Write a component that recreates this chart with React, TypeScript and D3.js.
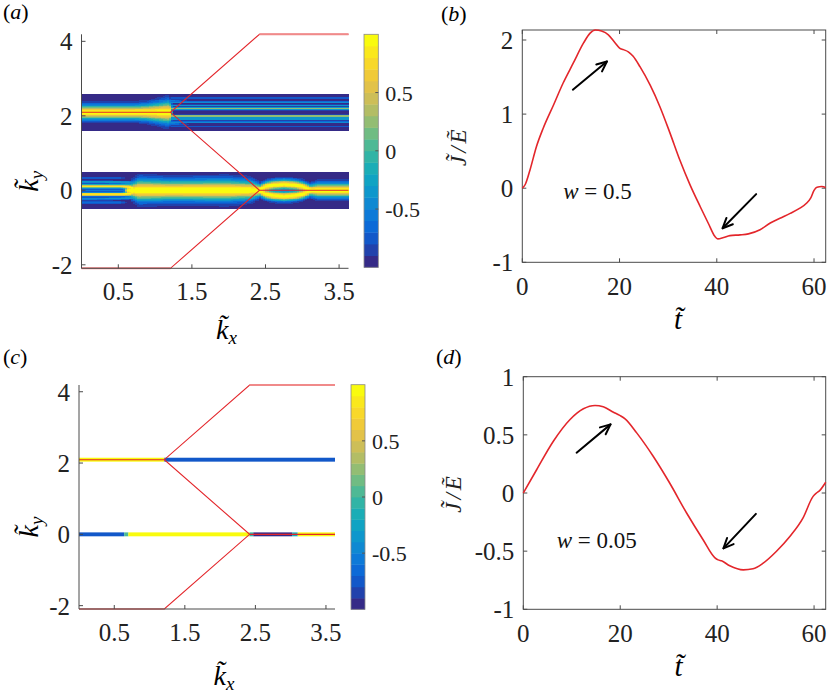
import React, { useMemo } from "react";
import * as d3 from "d3";

const W = 831;
const H = 694;

// red path across the zone (kx, ky)
const pathKx = [0, 1.209, 2.418, 1.209, 2.418, 3.628];
const pathKy = [-2.094, -2.094, 0, 2.094, 4.189, 4.189];
// extra horizontal red segments: [kx0, kx1, ky]
const redSegs = [
  [0, 1.209, 2.094],
  [2.418, 3.628, 0],
];

const kxTicks = [0.5, 1.5, 2.5, 3.5];
const kyTicks = [4, 2, 0, -2];
const cbTicks = [0.5, 0, -0.5];
const tTicks = [0, 20, 40, 60];
const jTicksB = [2, 1, 0, -1];
const jTicksD = [1, 0.5, 0, -0.5, -1];

const parula = ["#352a87", "#0363e1", "#1485d4", "#06a7c6", "#38b99e", "#92bf73", "#d9ba56", "#fcce2e", "#f9fb0e"];
const nLevels = 20;

// panel (a): two bands, ky centre +- 0.5
const bandCentersA = [2.094, 0];
// stripes: kx points, ky offset / width / peak value at those points, edge softness
const stripesUpper = [
  { xs: [-0.1, 0.7, 0.9, 1.05, 1.18, 1.23], dy: [0, 0, 0, 0, 0, 0], w: [0.17, 0.17, 0.19, 0.23, 0.27, 0.2], v: [1, 1, 1, 1, 1, 1], s: 0.02 },
  { xs: [0.8, 1.1, 1.4], dy: [0.29, 0.3, 0.33], w: [0.025, 0.035, 0.03], v: [-0.9, -0.5, -0.6], s: 0.25 },
  { xs: [0.8, 1.1, 1.4], dy: [-0.29, -0.3, -0.33], w: [0.025, 0.035, 0.03], v: [-0.9, -0.5, -0.6], s: 0.25 },
  { xs: [1.2, 3.7], dy: [0.1, 0.1], w: [0.035, 0.035], v: [0.4, 0.4], s: 0.03 },
  { xs: [1.2, 3.7], dy: [-0.1, -0.1], w: [0.035, 0.035], v: [0.4, 0.4], s: 0.03 },
  { xs: [1.2, 3.7], dy: [0.18, 0.18], w: [0.022, 0.022], v: [-0.15, -0.15], s: 0.03 },
  { xs: [1.2, 3.7], dy: [-0.18, -0.18], w: [0.022, 0.022], v: [-0.15, -0.15], s: 0.03 },
  { xs: [1.2, 3.7], dy: [0.27, 0.27], w: [0.03, 0.03], v: [-0.45, -0.45], s: 0.03 },
  { xs: [1.2, 3.7], dy: [-0.27, -0.27], w: [0.03, 0.03], v: [-0.45, -0.45], s: 0.03 },
  { xs: [1.2, 3.7], dy: [0.38, 0.38], w: [0.03, 0.03], v: [-0.75, -0.75], s: 0.03 },
  { xs: [1.2, 3.7], dy: [-0.38, -0.38], w: [0.03, 0.03], v: [-0.75, -0.75], s: 0.03 },
];
const stripesLower = [
  { xs: [-0.1, 0.55, 0.66, 0.72], dy: [0.105, 0.105, 0.085, 0.04], w: [0.05, 0.05, 0.07, 0.1], v: [0.85, 0.9, 1, 1], s: 0.03 },
  { xs: [-0.1, 0.55, 0.66, 0.72], dy: [-0.105, -0.105, -0.085, -0.04], w: [0.05, 0.05, 0.07, 0.1], v: [0.85, 0.9, 1, 1], s: 0.03 },
  { xs: [-0.1, 0.64], dy: [0, 0], w: [0.04, 0.04], v: [-0.5, -0.5], s: 0.03 },
  { xs: [-0.1, 0.5, 0.75], dy: [0.23, 0.22, 0.2], w: [0.035, 0.035, 0.04], v: [-0.35, -0.3, -0.3], s: 0.1 },
  { xs: [-0.1, 0.5, 0.75], dy: [-0.23, -0.22, -0.2], w: [0.035, 0.035, 0.04], v: [-0.35, -0.3, -0.3], s: 0.1 },
  { xs: [-0.1, 0.6], dy: [0.33, 0.33], w: [0.03, 0.03], v: [-0.65, -0.65], s: 0.15 },
  { xs: [-0.1, 0.6], dy: [-0.33, -0.33], w: [0.03, 0.03], v: [-0.65, -0.65], s: 0.15 },
  { xs: [0.6, 0.68, 0.78, 1.2, 2.0, 2.3, 2.44], dy: [0, 0, 0, 0, 0, 0, 0], w: [0.06, 0.17, 0.26, 0.24, 0.25, 0.22, 0.13], v: [1, 1, 1, 1, 1, 1, 1], s: 0.04 },
  { xs: [2.4, 2.5, 2.6, 2.75, 2.9, 3.0, 3.12], dy: [0, 0.1, 0.14, 0.16, 0.14, 0.1, 0], w: [0.12, 0.12, 0.12, 0.12, 0.12, 0.12, 0.12], v: [1, 1, 1, 1, 1, 1, 1], s: 0.02 },
  { xs: [2.4, 2.5, 2.6, 2.75, 2.9, 3.0, 3.12], dy: [0, -0.1, -0.14, -0.16, -0.14, -0.1, 0], w: [0.12, 0.12, 0.12, 0.12, 0.12, 0.12, 0.12], v: [1, 1, 1, 1, 1, 1, 1], s: 0.02 },
  { xs: [3.08, 3.2, 3.7], dy: [0, 0, 0], w: [0.12, 0.17, 0.17], v: [1, 1, 1], s: 0.02 },
];

// panel (c): thin strips [ky, kx0, kx1, value]
const stripsC = [
  [2.094, 0, 1.209, 1],
  [2.094, 1.209, 3.628, -0.75],
  [0, 0, 0.64, -0.75],
  [0, 0.64, 0.7, 0],
  [0, 0.7, 2.418, 1],
  [0, 2.418, 2.47, -0.1],
  [0, 2.47, 3.02, -0.95],
  [0, 3.02, 3.1, -0.2],
  [0, 3.1, 3.628, 1],
];

// panel (b): w = 0.5
const tB = [0, 0.6, 1.6, 2.9, 4.3, 6.4, 8.4, 10.5, 12.6, 13.9, 15, 16.3, 17.7, 19.1, 20, 20.8, 21.8, 22.8, 24.2, 26.3, 28.3, 30.4, 32.4, 34.5, 36.6, 38.3, 39.6, 40.2, 41.4, 42.7, 44.8, 46.5, 48.9, 51, 53, 55.1, 57.1, 58.5, 59.3, 60, 60.6, 61.6, 62.4];
const jB = [0, 0.05, 0.25, 0.56, 0.81, 1.12, 1.42, 1.69, 1.96, 2.09, 2.135, 2.12, 2.07, 1.96, 1.89, 1.87, 1.84, 1.78, 1.64, 1.39, 1.1, 0.74, 0.38, 0.045, -0.25, -0.48, -0.65, -0.684, -0.666, -0.64, -0.63, -0.616, -0.56, -0.47, -0.405, -0.34, -0.27, -0.2, -0.135, -0.03, 0.013, 0.022, 0.01];

// panel (d): w = 0.05
const tD = [0, 2.75, 6.2, 9.6, 12.4, 14.8, 16.5, 18.6, 19.9, 21, 23.4, 26.8, 30.2, 33.7, 37.1, 39.5, 40.2, 40.9, 42.6, 45.4, 47.4, 49.5, 52.2, 55, 57.7, 59.8, 60.5, 61.2, 62.4];
const jD = [0, 0.2, 0.445, 0.63, 0.724, 0.753, 0.741, 0.695, 0.667, 0.638, 0.517, 0.316, 0.086, -0.172, -0.402, -0.555, -0.575, -0.583, -0.626, -0.661, -0.652, -0.603, -0.503, -0.374, -0.216, -0.029, 0, 0.023, 0.092];

// arrows [t0, j0, t1, j1] (tail -> head)
const arrowsB = [
  [10.4, 1.33, 17.4, 1.71],
  [48.1, -0.08, 41.2, -0.54],
];
const arrowsD = [
  [11.0, 0.347, 18.0, 0.59],
  [48.0, -0.18, 41.3, -0.476],
];

const serif = "Liberation Serif, Times New Roman, Times, serif";
const axisColor = "#4a4a4a";
const red = "#e3262b";

const colorScale = d3.interpolateRgbBasis(parula);
const levelColor = (l: number) => colorScale(l / (nLevels - 1));
const toLevel = (v: number) => Math.max(0, Math.min(nLevels - 1, Math.floor(((v + 1) / 2) * nLevels)));

const clamp01 = (a: number) => Math.max(0, Math.min(1, a));

function interp(xs: number[], ys: number[], x: number) {
  if (x <= xs[0]) return ys[0];
  for (let i = 1; i < xs.length; i++) {
    if (x <= xs[i]) {
      const f = (x - xs[i - 1]) / (xs[i] - xs[i - 1]);
      return ys[i - 1] + f * (ys[i] - ys[i - 1]);
    }
  }
  return ys[ys.length - 1];
}

function cellValue(stripes: any[], x: number, d: number) {
  let val = -1;
  for (const s of stripes) {
    const x0 = s.xs[0];
    const x1 = s.xs[s.xs.length - 1];
    const fx = clamp01((x - x0) / s.s + 0.5) * clamp01((x1 - x) / s.s + 0.5);
    if (fx <= 0) continue;
    const off = d - interp(s.xs, s.dy, x);
    const w = interp(s.xs, s.w, x);
    const v = interp(s.xs, s.v, x);
    const c = -1 + (v + 1) * Math.exp(-(off * off) / (w * w)) * fx;
    if (c > val) val = c;
  }
  return val;
}

const Arrow = ({ x0, y0, x1, y1 }: any) => {
  const ang = Math.atan2(y1 - y0, x1 - x0);
  const len = 11;
  const spread = 0.42;
  const a1 = ang + Math.PI - spread;
  const a2 = ang + Math.PI + spread;
  const p1 = [x1 + len * Math.cos(a1), y1 + len * Math.sin(a1)];
  const p2 = [x1 + len * Math.cos(a2), y1 + len * Math.sin(a2)];
  return (
    <g stroke="#000" strokeWidth={2} fill="none" strokeLinecap="round" strokeLinejoin="round">
      <line x1={x0} y1={y0} x2={x1} y2={y1} />
      <polyline points={`${p1[0]},${p1[1]} ${x1},${y1} ${p2[0]},${p2[1]}`} />
    </g>
  );
};

const KLabel = ({ x, y, sub, rotate }: any) => (
  <text
    transform={`translate(${x},${y})${rotate ? " rotate(-90)" : ""}`}
    fontStyle="italic"
    fontSize={28}
    fill="#000"
    textAnchor="middle"
  >
    {"k\u0303"}
    <tspan fontSize={19} dy={5}>
      {sub}
    </tspan>
  </text>
);

const MapPanel = ({ box, cb, heat, label, labelPos, xLabelY }: any) => {
  const x = d3.scaleLinear([0, 3.628], [box.left, box.right]);
  const y = d3.scaleLinear([-2.094, 4.189], [box.bottom, box.top]);
  const cbY = d3.scaleLinear([-1, 1], [cb.bottom, cb.top]);
  const line = d3.line<number>().x((_, i) => x(pathKx[i])).y((_, i) => y(pathKy[i]));
  const levels = d3.range(nLevels);
  return (
    <g>
      <text x={labelPos[0]} y={labelPos[1]} fontSize={22}>
        (<tspan fontStyle="italic">{label}</tspan>)
      </text>
      {heat(x, y)}
      <path d={line(pathKx) || ""} fill="none" stroke={red} strokeWidth={1.1} />
      {redSegs.map((s, i) => (
        <line key={i} x1={x(s[0])} x2={x(s[1])} y1={y(s[2])} y2={y(s[2])} stroke={red} strokeWidth={1.1} />
      ))}
      <line x1={x(2.418)} x2={x(3.628)} y1={y(4.189)} y2={y(4.189)} stroke="#f08a8a" strokeWidth={2} />
      <line x1={x(0)} x2={x(1.209)} y1={y(-2.094)} y2={y(-2.094)} stroke="#f08a8a" strokeWidth={2} />
      {/* axes */}
      <g stroke={axisColor} strokeWidth={1}>
        <line x1={box.left} x2={box.left} y1={box.top} y2={box.bottom} />
        <line x1={box.left} x2={box.right} y1={box.bottom} y2={box.bottom} />
        {kxTicks.map((t) => (
          <line key={t} x1={x(t)} x2={x(t)} y1={box.bottom} y2={box.bottom - 4} />
        ))}
        {kyTicks.map((t) => (
          <line key={t} x1={box.left} x2={box.left + 4} y1={y(t)} y2={y(t)} />
        ))}
      </g>
      {kxTicks.map((t) => (
        <text key={t} x={x(t)} y={box.bottom + 32} textAnchor="middle" fontSize={25} fill="#222">
          {t}
        </text>
      ))}
      {kyTicks.map((t) => (
        <text key={t} x={box.left - 9} y={y(t) + 9} textAnchor="end" fontSize={25} fill="#222">
          {t}
        </text>
      ))}
      <KLabel x={box.left + 145} y={xLabelY} sub="x" />
      <KLabel x={38} y={(box.top + box.bottom) / 2 + 30} sub="y" rotate />
      {/* colorbar */}
      {levels.map((l) => (
        <rect
          key={l}
          x={cb.x}
          width={cb.w}
          y={cbY(-1 + ((l + 1) * 2) / nLevels)}
          height={cbY(-1) - cbY(-1 + 2 / nLevels) + 0.4}
          fill={levelColor(l)}
        />
      ))}
      <rect x={cb.x} y={cb.top} width={cb.w} height={cb.bottom - cb.top} fill="none" stroke="#8a8a8a" strokeWidth={0.8} />
      {cbTicks.map((t) => (
        <g key={t}>
          <line x1={cb.x + cb.w - 3} x2={cb.x + cb.w} y1={cbY(t)} y2={cbY(t)} stroke="#555" />
          <text x={cb.x + cb.w + 7} y={cbY(t) + 8} fontSize={22} fill="#222">
            {t}
          </text>
        </g>
      ))}
    </g>
  );
};

const CurvePanel = ({ box, yDomain, yTicks, ts, js, arrows, label, labelPos, wText, wPos, yLabelX }: any) => {
  const x = d3.scaleLinear([0, 62.4], [box.left, box.right]);
  const y = d3.scaleLinear(yDomain, [box.bottom, box.top]);
  const line = d3
    .line<number>()
    .x((_, i) => x(ts[i]))
    .y((_, i) => y(js[i]))
    .curve(d3.curveMonotoneX);
  return (
    <g>
      <text x={labelPos[0]} y={labelPos[1]} fontSize={22}>
        (<tspan fontStyle="italic">{label}</tspan>)
      </text>
      <g stroke={axisColor} strokeWidth={1} fill="none">
        <rect x={box.left} y={box.top} width={box.right - box.left} height={box.bottom - box.top} />
        {tTicks.map((t) => (
          <g key={t}>
            <line x1={x(t)} x2={x(t)} y1={box.bottom} y2={box.bottom - 4} />
            <line x1={x(t)} x2={x(t)} y1={box.top} y2={box.top + 4} />
          </g>
        ))}
        {yTicks.map((t: number) => (
          <g key={t}>
            <line x1={box.left} x2={box.left + 4} y1={y(t)} y2={y(t)} />
            <line x1={box.right} x2={box.right - 4} y1={y(t)} y2={y(t)} />
          </g>
        ))}
      </g>
      {tTicks.map((t) => (
        <text key={t} x={x(t)} y={box.bottom + 33} textAnchor="middle" fontSize={25} fill="#222">
          {t}
        </text>
      ))}
      {yTicks.map((t: number) => (
        <text key={t} x={box.left - 9} y={y(t) + 9} textAnchor="end" fontSize={25} fill="#222">
          {t}
        </text>
      ))}
      <path d={line(ts) || ""} fill="none" stroke={red} strokeWidth={1.6} />
      {arrows.map((a: number[], i: number) => (
        <Arrow key={i} x0={x(a[0])} y0={y(a[1])} x1={x(a[2])} y1={y(a[3])} />
      ))}
      <text x={x(wPos[0])} y={y(wPos[1])} fontSize={23} fill="#111">
        <tspan fontStyle="italic">w</tspan> = {wText}
      </text>
      <text
        transform={`translate(${yLabelX},${(box.top + box.bottom) / 2}) rotate(-90)`}
        fontStyle="italic"
        fontSize={23}
        letterSpacing={3}
        textAnchor="middle"
        fill="#222"
      >
        {"J\u0303/E\u0303"}
      </text>
      <text
        x={(box.left + box.right) / 2 + 4}
        y={box.bottom + 67}
        fontStyle="italic"
        fontSize={29}
        textAnchor="middle"
      >
        {"t\u0303"}
      </text>
    </g>
  );
};

export default function App() {
  const heatA = useMemo(() => {
    const nx = 134;
    const ny = 50;
    const dx = 3.628 / nx;
    const cells: { band: number; row: number; c0: number; c1: number; lvl: number }[] = [];
    bandCentersA.forEach((kc, b) => {
      const stripes = b === 0 ? stripesUpper : stripesLower;
      for (let r = 0; r < ny; r++) {
        const d = 0.5 - (r + 0.5) / ny;
        let start = 0;
        let cur = -1;
        for (let c = 0; c <= nx; c++) {
          const lvl = c < nx ? toLevel(cellValue(stripes, (c + 0.5) * dx, d)) : -2;
          if (lvl !== cur) {
            if (cur >= 0) cells.push({ band: b, row: r, c0: start, c1: c, lvl: cur });
            start = c;
            cur = lvl;
          }
        }
      }
    });
    return { cells, nx, ny, dx };
  }, []);

  const drawHeatA = (x: any, y: any) => (
    <g shapeRendering="crispEdges">
      {heatA.cells.map((c, i) => {
        const kc = bandCentersA[c.band];
        const top = kc + 0.5 - c.row / heatA.ny;
        const bot = kc + 0.5 - (c.row + 1) / heatA.ny;
        return (
          <rect
            key={i}
            x={x(c.c0 * heatA.dx)}
            width={x(c.c1 * heatA.dx) - x(c.c0 * heatA.dx) + 0.3}
            y={y(top)}
            height={y(bot) - y(top) + 0.3}
            fill={levelColor(c.lvl)}
          />
        );
      })}
    </g>
  );

  const drawHeatC = (x: any, y: any) => (
    <g>
      {stripsC.map((s, i) => (
        <rect
          key={i}
          x={x(s[1])}
          width={x(s[2]) - x(s[1])}
          y={y(s[0] + 0.055)}
          height={y(s[0] - 0.055) - y(s[0] + 0.055)}
          fill={levelColor(toLevel(s[3]))}
        />
      ))}
    </g>
  );

  return (
    <svg
      width={W}
      height={H}
      style={{ position: "absolute", left: 0, top: 0, background: "#fff", fontFamily: serif }}
    >
      <MapPanel
        box={{ left: 81.5, right: 348.5, top: 34.3, bottom: 268.3 }}
        cb={{ x: 364, w: 14.3, top: 34.3, bottom: 267.3 }}
        heat={drawHeatA}
        label="a"
        labelPos={[3, 19]}
        xLabelY={339}
      />
      <MapPanel
        box={{ left: 79, right: 335, top: 385, bottom: 609 }}
        cb={{ x: 351, w: 14, top: 384.7, bottom: 609.3 }}
        heat={drawHeatC}
        label="c"
        labelPos={[3, 364]}
        xLabelY={685}
      />
      <CurvePanel
        box={{ left: 522.3, right: 825.7, top: 30, bottom: 262.3 }}
        yDomain={[-1, 2.135]}
        yTicks={jTicksB}
        ts={tB}
        js={jB}
        arrows={arrowsB}
        label="b"
        labelPos={[441, 21]}
        wText="0.5"
        wPos={[8.4, -0.15]}
        yLabelX={466}
      />
      <CurvePanel
        box={{ left: 523.3, right: 825.7, top: 376.7, bottom: 609.3 }}
        yDomain={[-1, 1]}
        yTicks={jTicksD}
        ts={tD}
        js={jD}
        arrows={arrowsD}
        label="d"
        labelPos={[436, 364]}
        wText="0.05"
        wPos={[6.9, -0.47]}
        yLabelX={461}
      />
    </svg>
  );
}
